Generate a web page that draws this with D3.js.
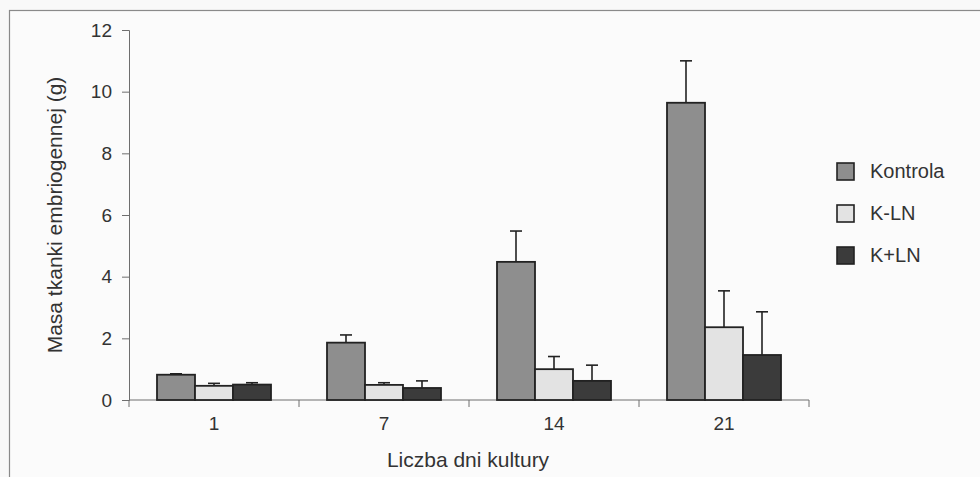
<!DOCTYPE html>
<html lang="pl">
<head>
<meta charset="UTF-8">
<title>Masa tkanki embriogennej</title>
<script src="https://cdn.jsdelivr.net/npm/d3@7"></script>
<style>
    body{ margin:0; background:#f9f9f9; }
    svg{ display:block; font-family:"Liberation Sans", Arial, sans-serif; }
    .axis path, .axis line{ stroke:#6e6e6e; }
    .axis text{ fill:#333; font-size:19px; font-family:"Liberation Sans", Arial, sans-serif; }
</style>
</head>
<body>
<svg id="chart" width="980" height="477"></svg>
<script>
    // data
    let days = ["1", "7", "14", "21"]
    let series = ["Kontrola", "K-LN", "K+LN"]
    let kontrola = [0.82, 1.86, 4.48, 9.64]
    let kontrolaErr = [0.03, 0.25, 1.0, 1.36]
    let kln = [0.46, 0.49, 1.0, 2.36]
    let klnErr = [0.08, 0.07, 0.41, 1.18]
    let kpln = [0.50, 0.39, 0.62, 1.46]
    let kplnErr = [0.06, 0.23, 0.51, 1.40]
    let yTicks = [0, 2, 4, 6, 8, 10, 12]
    let colors = ["#8e8e8e", "#e3e3e3", "#3b3b3b"]

    let values = [kontrola, kln, kpln]
    let errors = [kontrolaErr, klnErr, kplnErr]

    let svg = d3.select("#chart")

    // outer frame
    svg.append("rect")
        .attr("x", 9.5).attr("y", 10.5)
        .attr("width", 990).attr("height", 490)
        .attr("fill", "#fbfbfb")
        .attr("stroke", "#8a8a8a")
        .attr("stroke-width", 1.2)

    let x0 = d3.scaleBand().domain(days).range([129, 809])
    let x1 = d3.scaleBand().domain(series).range([28, x0.bandwidth() - 28])
    let y = d3.scaleLinear().domain([0, 12]).range([400, 30])

    // y axis
    svg.append("g")
        .attr("class", "axis")
        .attr("transform", "translate(129,0)")
        .call(d3.axisLeft(y).tickValues(yTicks).tickSize(7).tickPadding(10))

    // x axis: labels centred, ticks at band edges
    let xg = svg.append("g")
        .attr("class", "axis")
        .attr("transform", "translate(0,400)")
        .call(d3.axisBottom(x0).tickSize(0).tickPadding(17))
    xg.select(".domain").attr("d", "M129,0H809")
    xg.selectAll(".edge")
        .data(days.map(d => x0(d)).concat([x0.range()[1]]))
        .join("line")
        .attr("class", "edge")
        .attr("x1", d => d).attr("x2", d => d)
        .attr("y1", 0).attr("y2", 7)

    // bars
    let groups = svg.selectAll(".grp")
        .data(days)
        .join("g")
        .attr("class", "grp")
        .attr("transform", d => `translate(${x0(d)},0)`)

    series.forEach((s, si) => {
        let bx = x1(s), bw = x1.bandwidth()
        // error bars
        groups.append("line")
            .attr("x1", bx + bw / 2).attr("x2", bx + bw / 2)
            .attr("y1", (d, i) => y(values[si][i]))
            .attr("y2", (d, i) => y(values[si][i] + errors[si][i]))
            .attr("stroke", "#222").attr("stroke-width", 1.6)
        groups.append("line")
            .attr("x1", bx + bw / 2 - 6).attr("x2", bx + bw / 2 + 6)
            .attr("y1", (d, i) => y(values[si][i] + errors[si][i]))
            .attr("y2", (d, i) => y(values[si][i] + errors[si][i]))
            .attr("stroke", "#222").attr("stroke-width", 1.6)
        groups.append("rect")
            .attr("x", bx)
            .attr("width", bw)
            .attr("y", (d, i) => y(values[si][i]))
            .attr("height", (d, i) => y(0) - y(values[si][i]))
            .attr("fill", colors[si])
            .attr("stroke", "#222")
            .attr("stroke-width", 1.8)
    })

    // axis titles
    svg.append("text")
        .attr("x", 468).attr("y", 467)
        .attr("text-anchor", "middle")
        .attr("font-size", 21).attr("fill", "#333")
        .text("Liczba dni kultury")
    svg.append("text")
        .attr("transform", "translate(62,215) rotate(-90)")
        .attr("text-anchor", "middle")
        .attr("font-size", 21).attr("fill", "#333")
        .text("Masa tkanki embriogennej (g)")

    // legend
    let leg = svg.selectAll(".leg")
        .data(series)
        .join("g")
        .attr("class", "leg")
        .attr("transform", (d, i) => `translate(837,${163 + i * 42})`)
    leg.append("rect")
        .attr("width", 17).attr("height", 17)
        .attr("fill", (d, i) => colors[i])
        .attr("stroke", "#222").attr("stroke-width", 1.6)
    leg.append("text")
        .attr("x", 33).attr("y", 15)
        .attr("font-size", 20).attr("fill", "#333")
        .text(d => d)
</script>
</body>
</html>
